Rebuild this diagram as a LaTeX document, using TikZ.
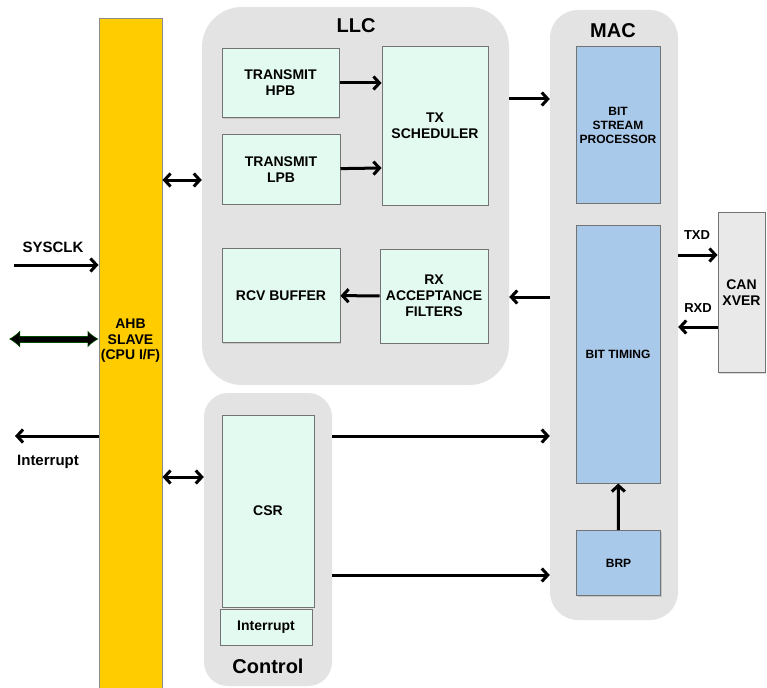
\documentclass[tikz,border=0pt]{standalone}
\usepackage{fontspec}
\setmainfont{Liberation Sans}
\usetikzlibrary{arrows.meta,shadows}
\definecolor{ahbyel}{HTML}{FFCC00}
\definecolor{grpgray}{HTML}{E3E3E3}
\definecolor{mint}{HTML}{E3FAF0}
\definecolor{macblue}{HTML}{A8C9EA}
\definecolor{xvergray}{HTML}{E9E9E9}
\begin{document}
\begin{tikzpicture}[x=1pt,y=-1pt,
  grp/.style={fill=grpgray,inner sep=0pt},
  blk/.style={draw=black!55,line width=1pt,fill=mint,inner sep=0pt,align=center,
    font=\bfseries\fontsize{14}{16}\selectfont,
    drop shadow={opacity=.3,shadow xshift=1.2pt,shadow yshift=-1.2pt}},
  macblk/.style={blk,fill=macblue,font=\bfseries\fontsize{12}{14}\selectfont},
  ttl/.style={font=\bfseries\fontsize{20}{22}\selectfont},
  lbl/.style={font=\bfseries\fontsize{14}{15.5}\selectfont,align=center},
  sig/.style={line width=3pt,-{Straight Barb[length=6pt,width=13pt]}},
  bus/.style={line width=3pt,{Straight Barb[length=6pt,width=13pt]}-{Straight Barb[length=6pt,width=13pt]}}]
\useasboundingbox (0,0) rectangle (767,687);
\node[grp,rounded corners=40pt,minimum width=307pt,minimum height=378pt] (llc) at (355.5,196) {};
\node[grp,rounded corners=28pt,minimum width=128pt,minimum height=610pt] (mac) at (614,315) {};
\node[grp,rounded corners=24pt,minimum width=128pt,minimum height=293pt] (ctl) at (268,539.5) {};
\node[ttl] (llct) at (356,26) {LLC};
\node[ttl] (mact) at (613,31) {MAC};
\node[ttl] (ctlt) at (268,666) {Control};
\node[blk,fill=ahbyel,draw=black!45,minimum width=63pt,minimum height=671pt] (ahb) at (130.5,354.5) {};
\node[lbl] (ahbt) at (130.5,341) {AHB\\SLAVE\\(CPU I/F)};
\node[blk,minimum width=117pt,minimum height=69pt] (hpb) at (280.5,83) {TRANSMIT\\HPB};
\node[blk,minimum width=118pt,minimum height=69pt] (lpb) at (281,169.5) {TRANSMIT\\LPB};
\node[blk,minimum width=106pt,minimum height=158pt] (txs) at (435,126) {TX\\SCHEDULER};
\node[blk,minimum width=118pt,minimum height=94pt] (rcv) at (281,295.5) {RCV BUFFER};
\node[blk,minimum width=108pt,minimum height=94pt] (rxf) at (434,296) {RX\\ACCEPTANCE\\FILTERS};
\node[macblk,minimum width=84pt,minimum height=156pt] (bsp) at (618,125) {BIT\\STREAM\\PROCESSOR};
\node[macblk,minimum width=84pt,minimum height=258pt] (bt) at (618,354) {BIT TIMING};
\node[macblk,minimum width=84pt,minimum height=65pt] (brp) at (618.5,563) {BRP};
\node[blk,fill=xvergray,minimum width=47pt,minimum height=160pt] (can) at (741.5,292.5) {CAN\\XVER};
\node[blk,minimum width=92pt,minimum height=192pt] (csr) at (268,511) {CSR};
\node[blk,minimum width=92pt,minimum height=36pt] (irqb) at (266,627) {Interrupt};
\draw[sig] (hpb) -- (txs.west |- hpb);
\draw[sig] (lpb) -- (txs.west |- 0,168);
\draw[sig] (llc.east |- 0,99) -- (mac.west |- 0,99);
\draw[sig] (mac.west |- 0,297) -- (llc.east |- 0,297);
\draw[sig] (rxf) -- (rcv);
\draw[bus] (ahb.east |- 0,180) -- (llc.west |- 0,180);
\draw[bus] (ahb.east |- 0,477) -- (ctl.west |- 0,477);
\draw[sig] (ctl.east |- 0,436) -- (mac.west |- 0,436);
\draw[sig] (ctl.east |- 0,575) -- (mac.west |- 0,575);
\draw[sig] (brp) -- (bt);
\draw[sig] (mac.east |- 0,255) -- (can.west |- 0,255);
\draw[sig] (can.west |- 0,327) -- (mac.east |- 0,327);
\node[lbl,font=\bfseries\fontsize{13}{15}\selectfont] (txd) at (697,235) {TXD};
\node[lbl,font=\bfseries\fontsize{13}{15}\selectfont] (rxd) at (698,308) {RXD};
\coordinate (clk) at (14,265);
\coordinate (irq) at (15,436);
\coordinate (cpu) at (9,339);
\draw[sig] (clk) -- (ahb.west |- clk);
\node[lbl,font=\bfseries\fontsize{15}{17}\selectfont] (clkt) at (53,247) {SYSCLK};
\draw[sig] (ahb.west |- irq) -- (irq);
\node[lbl,font=\bfseries\fontsize{15}{17}\selectfont] (irqt) at (48,462) {Interrupt};
\draw[line width=7pt,green!30!black,{Latex[length=11pt,width=17pt,line width=1pt]}-{Latex[length=11pt,width=17pt,line width=1pt]}] (cpu) -- (ahb.west |- cpu);
\draw[line width=5pt,black,{Latex[length=9pt,width=13pt,line width=0pt]}-{Latex[length=9pt,width=13pt,line width=0pt]},shorten <=1.5pt,shorten >=1.5pt] (cpu) -- (ahb.west |- cpu);
\end{tikzpicture}
\end{document}
